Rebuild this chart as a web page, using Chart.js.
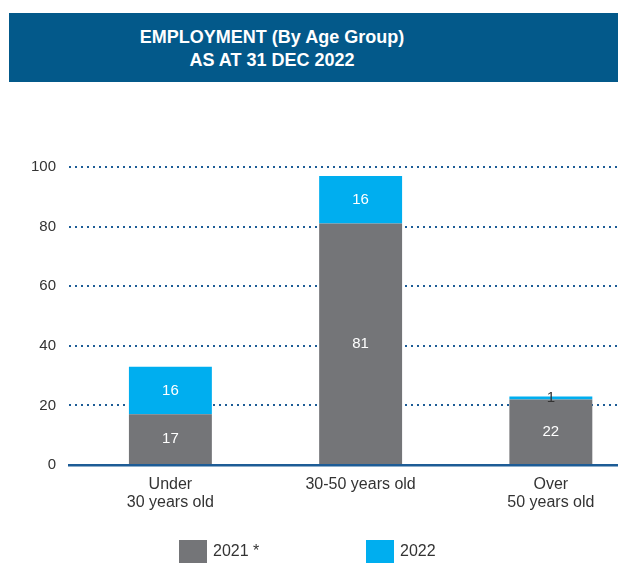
<!DOCTYPE html>
<html><head><meta charset="utf-8">
<script src="https://cdn.jsdelivr.net/npm/chart.js@4.4.1/dist/chart.umd.min.js"></script>
<style>
html,body{margin:0;padding:0;background:#fff;overflow:hidden;}
#wrap{position:relative;width:618px;height:563px;}
#banner{position:absolute;left:9px;top:13px;width:609px;height:69px;background:#03598a;}
#banner div{width:526px;text-align:center;color:#fff;font:bold 18px 'Liberation Sans',Arial,sans-serif;line-height:23px;padding-top:13px;}
canvas{position:absolute;left:0;top:0;}
</style></head><body>
<div id="wrap"><canvas id="c" width="618" height="563"></canvas><div id="banner"><div>EMPLOYMENT (By Age Group)<br>AS AT 31 DEC 2022</div></div></div>
<script>
const categories = [["Under", "30 years old"], "30-50 years old", ["Over", "50 years old"]];
const seriesNames = ["2021 *", "2022"];
const values2021 = [17, 81, 22];
const values2022 = [16, 16, 1];
const seriesColors = ["#747578", "#00aeef"];

const FONT = "'Liberation Sans', Arial, sans-serif";
Chart.defaults.font.family = FONT;

const valueLabels = {
  id: 'valueLabels',
  afterDatasetsDraw(chart) {
    const ctx = chart.ctx;
    ctx.save();
    ctx.font = "15px " + FONT;
    ctx.textAlign = 'center';
    ctx.textBaseline = 'middle';
    chart.data.datasets.forEach((ds, di) => {
      const meta = chart.getDatasetMeta(di);
      meta.data.forEach((bar, i) => {
        const v = ds.data[i].y;
        const h = Math.abs(bar.base - bar.y);
        ctx.fillStyle = h < 16 ? '#333333' : '#ffffff';
        ctx.fillText(String(v), bar.x, (bar.y + bar.base) / 2);
      });
    });
    ctx.restore();
  }
};

const bottomLegend = {
  id: 'bottomLegend',
  afterDraw(chart) {
    const ctx = chart.ctx;
    const top = chart.chartArea.bottom + 75;
    const xs = [179, 366];
    ctx.save();
    ctx.font = "16px " + FONT;
    ctx.textAlign = 'left';
    ctx.textBaseline = 'middle';
    chart.data.datasets.forEach((ds, i) => {
      ctx.fillStyle = ds.backgroundColor;
      ctx.fillRect(xs[i], top, 28, 23);
      ctx.fillStyle = '#333333';
      ctx.fillText(ds.label, xs[i] + 34, top + 12);
    });
    ctx.restore();
  }
};

new Chart(document.getElementById('c'), {
  type: 'bar',
  data: {
    datasets: [
      { label: seriesNames[0], data: values2021.map((v, i) => ({x: i, y: v})), backgroundColor: seriesColors[0] },
      { label: seriesNames[1], data: values2022.map((v, i) => ({x: i, y: v})), backgroundColor: seriesColors[1] }
    ]
  },
  options: {
    responsive: false,
    animation: false,
    categoryPercentage: 1,
    barPercentage: 0.436,
    layout: { padding: { top: 167, left: 0, right: 0, bottom: 0 } },
    plugins: { legend: { display: false }, title: { display: false }, tooltip: { enabled: false } },
    scales: {
      x: {
        type: 'linear',
        stacked: true,
        offset: false,
        min: -0.533,
        max: 2.353,
        grid: { display: false, drawTicks: false },
        border: { display: true, color: '#1d5c96', width: 2.5 },
        afterFit(scale) { scale.height = 98; },
        ticks: {
          stepSize: 1,
          includeBounds: false,
          autoSkip: false,
          maxRotation: 0,
          padding: 11,
          color: '#333333',
          font: { size: 16, lineHeight: 1.125 },
          callback: (v) => (Number.isInteger(v) && categories[v] !== undefined) ? categories[v] : ''
        }
      },
      y: {
        stacked: true,
        min: 0,
        max: 100,
        afterFit(scale) { scale.width = 69; },
        grid: { color: '#1d5c96', lineWidth: 2, drawTicks: false },
        border: { display: false, dash: [2, 4] },
        ticks: { stepSize: 20, padding: 13, color: '#333333', font: { size: 15 } }
      }
    }
  },
  plugins: [valueLabels, bottomLegend]
});
</script>
</body></html>
